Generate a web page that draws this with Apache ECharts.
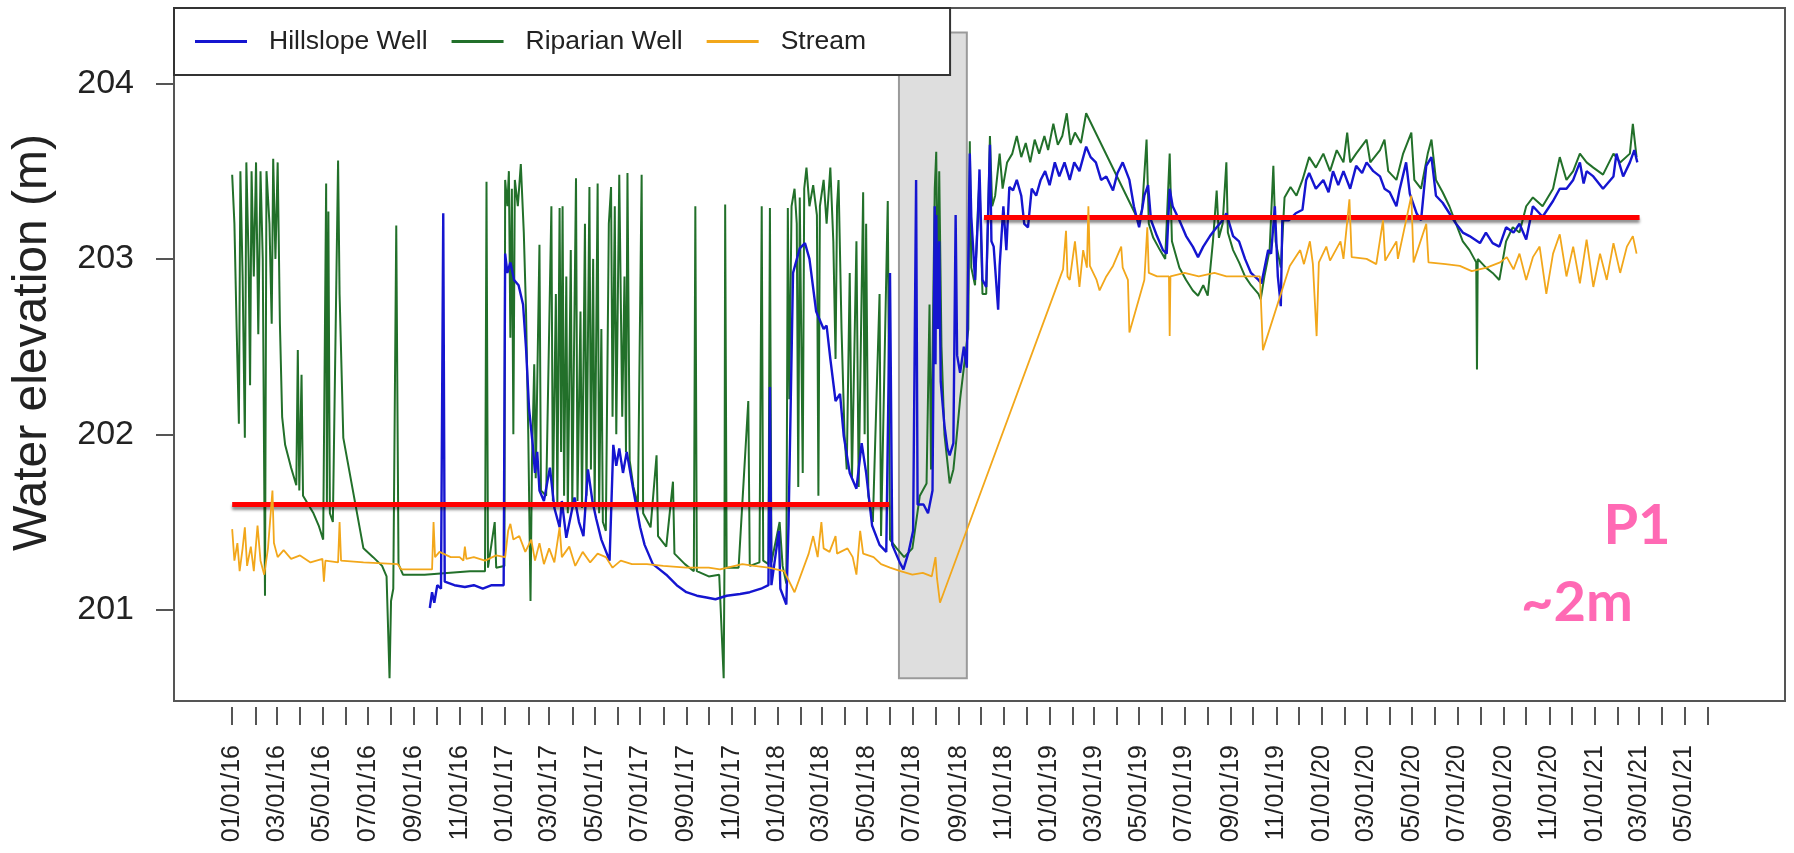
<!DOCTYPE html>
<html>
<head>
<meta charset="UTF-8">
<title>Water elevation P1</title>
<script src="https://cdn.jsdelivr.net/npm/echarts@6/dist/echarts.min.js"></script>
<style>
  html, body { margin: 0; padding: 0; background: #fff; }
  #main { width: 1794px; height: 853px; }
</style>
</head>
<body>
<div id="main"></div>
<script>
// series values, [date, water elevation m]
var hillslope = [
    ['2016-09-22',201.01],['2016-09-25',201.1],['2016-09-28',201.04],['2016-10-02',201.14],['2016-10-07',201.12],['2016-10-10',203.26],['2016-10-12',201.16],
    ['2016-10-25',201.14],['2016-11-08',201.13],['2016-11-20',201.14],['2016-12-02',201.12],['2016-12-14',201.14],['2016-12-30',201.14],
    ['2017-01-01',203.03],['2017-01-04',202.92],['2017-01-08',202.98],['2017-01-13',202.88],['2017-01-19',202.85],['2017-01-25',202.74],['2017-01-29',202.49],
    ['2017-02-02',202.15],['2017-02-07',201.94],['2017-02-10',201.78],['2017-02-13',201.9],['2017-02-16',201.68],['2017-02-22',201.62],['2017-03-02',201.81],
    ['2017-03-08',201.58],['2017-03-15',201.47],['2017-03-18',201.62],['2017-03-24',201.41],['2017-04-04',201.64],['2017-04-10',201.5],['2017-04-16',201.42],
    ['2017-04-22',201.8],['2017-04-28',201.62],['2017-05-03',201.52],['2017-05-10',201.4],['2017-05-21',201.28],['2017-05-26',201.94],['2017-05-30',201.82],
    ['2017-06-03',201.92],['2017-06-08',201.78],['2017-06-13',201.9],['2017-06-22',201.68],['2017-07-01',201.47],['2017-07-07',201.37],['2017-07-18',201.26],
    ['2017-07-27',201.23],['2017-08-05',201.2],['2017-08-19',201.14],['2017-09-01',201.1],['2017-09-15',201.08],['2017-09-28',201.07],['2017-10-10',201.06],
    ['2017-10-25',201.08],['2017-11-12',201.09],['2017-11-25',201.1],['2017-12-10',201.12],['2017-12-20',201.14],['2017-12-22',202.27],['2017-12-24',201.14],
    ['2018-01-03',201.45],['2018-01-05',201.12],['2018-01-13',201.03],['2018-01-16',201.49],['2018-01-22',202.92],['2018-01-31',203.06],['2018-02-07',203.09],
    ['2018-02-13',203.0],['2018-02-22',202.7],['2018-03-04',202.6],['2018-03-08',202.62],['2018-03-13',202.43],['2018-03-20',202.19],['2018-03-26',202.23],
    ['2018-03-31',201.99],['2018-04-08',201.78],['2018-04-17',201.69],['2018-04-24',201.95],['2018-04-30',201.78],['2018-05-08',201.48],['2018-05-18',201.37],
    ['2018-05-27',201.33],['2018-06-01',202.92],['2018-06-04',201.37],['2018-06-14',201.27],['2018-06-19',201.23],['2018-06-26',201.33],['2018-07-02',201.45],
    ['2018-07-06',203.45],['2018-07-08',201.6],['2018-07-16',201.6],['2018-07-22',201.55],['2018-07-28',201.68],['2018-07-31',203.3],['2018-08-01',202.4],
    ['2018-08-02',203.25],['2018-08-04',202.6],['2018-08-06',203.1],['2018-08-08',202.3],['2018-08-13',202.05],['2018-08-17',201.92],['2018-08-20',201.88],
    ['2018-08-25',201.95],['2018-08-28',203.25],['2018-08-30',202.45],['2018-09-03',202.35],['2018-09-08',202.5],['2018-09-12',202.38],['2018-09-16',203.6],
    ['2018-09-18',203.24],['2018-09-23',202.88],['2018-09-27',203.24],['2018-09-29',203.51],['2018-10-03',202.88],['2018-10-08',202.84],['2018-10-13',203.65],
    ['2018-10-15',203.1],['2018-10-18',203.07],['2018-10-24',202.71],['2018-10-26',202.96],['2018-10-31',203.3],['2018-11-04',203.05],['2018-11-08',203.41],
    ['2018-11-13',203.39],['2018-11-18',203.45],['2018-11-24',203.36],['2018-11-28',203.2],['2018-12-03',203.18],['2018-12-08',203.4],['2018-12-14',203.36],
    ['2018-12-20',203.45],['2018-12-26',203.5],['2019-01-01',203.42],['2019-01-08',203.55],['2019-01-14',203.47],['2019-01-21',203.55],['2019-01-28',203.45],
    ['2019-02-03',203.55],['2019-02-10',203.5],['2019-02-19',203.64],['2019-02-25',203.58],['2019-03-04',203.55],['2019-03-11',203.45],['2019-03-18',203.47],
    ['2019-03-27',203.39],['2019-04-02',203.49],['2019-04-09',203.55],['2019-04-18',203.45],['2019-04-24',203.3],['2019-05-01',203.18],['2019-05-08',203.36],
    ['2019-05-13',203.42],['2019-05-17',203.22],['2019-05-25',203.13],['2019-06-02',203.05],['2019-06-07',203.03],['2019-06-11',203.4],['2019-06-15',203.3],
    ['2019-06-24',203.22],['2019-07-03',203.13],['2019-07-12',203.07],['2019-07-19',203.01],['2019-07-26',203.07],['2019-08-04',203.13],['2019-08-13',203.18],
    ['2019-08-21',203.22],['2019-08-26',203.26],['2019-09-04',203.13],['2019-09-12',203.1],['2019-09-20',203.0],['2019-09-28',202.92],['2019-10-08',202.88],
    ['2019-10-12',202.86],['2019-10-21',203.05],['2019-10-25',203.03],['2019-10-30',203.3],['2019-11-03',202.9],['2019-11-07',202.73],['2019-11-09',203.22],
    ['2019-11-18',203.22],['2019-11-27',203.26],['2019-12-06',203.28],['2019-12-11',203.45],['2019-12-15',203.49],['2019-12-24',203.4],['2020-01-03',203.45],
    ['2020-01-10',203.38],['2020-01-16',203.5],['2020-01-23',203.42],['2020-01-30',203.5],['2020-02-08',203.4],['2020-02-16',203.53],['2020-02-24',203.49],
    ['2020-03-01',203.55],['2020-03-10',203.5],['2020-03-19',203.47],['2020-03-25',203.4],['2020-04-01',203.38],['2020-04-10',203.3],['2020-04-14',203.39],
    ['2020-04-23',203.55],['2020-04-28',203.37],['2020-05-07',203.26],['2020-05-13',203.22],['2020-05-20',203.53],['2020-05-27',203.58],['2020-06-02',203.36],
    ['2020-06-11',203.32],['2020-06-20',203.26],['2020-06-29',203.2],['2020-07-08',203.15],['2020-07-17',203.13],['2020-07-31',203.09],['2020-08-08',203.15],
    ['2020-08-17',203.09],['2020-08-26',203.07],['2020-09-04',203.18],['2020-09-14',203.15],['2020-09-22',203.2],['2020-10-01',203.11],['2020-10-10',203.3],
    ['2020-10-23',203.24],['2020-11-06',203.33],['2020-11-15',203.4],['2020-11-24',203.4],['2020-12-03',203.45],['2020-12-12',203.55],['2020-12-17',203.43],
    ['2020-12-21',203.5],['2020-12-30',203.47],['2021-01-12',203.4],['2021-01-26',203.47],['2021-01-30',203.6],['2021-02-08',203.47],['2021-02-17',203.55],
    ['2021-02-23',203.62],['2021-02-27',203.55]
];

var riparian = [
    ['2016-01-01',203.48],['2016-01-04',203.2],['2016-01-07',202.6],['2016-01-10',202.06],['2016-01-12',203.5],['2016-01-15',202.9],['2016-01-18',201.98],
    ['2016-01-20',203.55],['2016-01-23',203.0],['2016-01-25',202.28],['2016-01-27',203.5],['2016-01-30',202.9],['2016-02-02',203.55],['2016-02-05',202.57],
    ['2016-02-08',203.5],['2016-02-11',203.0],['2016-02-14',201.08],['2016-02-16',203.5],['2016-02-20',203.2],['2016-02-23',202.63],['2016-02-25',203.57],
    ['2016-02-28',203.0],['2016-03-02',203.55],['2016-03-05',202.63],['2016-03-08',202.1],['2016-03-12',201.94],['2016-03-20',201.81],['2016-03-27',201.71],
    ['2016-03-29',202.48],['2016-03-31',201.68],['2016-04-03',202.34],['2016-04-05',201.65],['2016-04-12',201.6],['2016-04-19',201.55],['2016-04-26',201.48],
    ['2016-05-02',201.4],['2016-05-06',203.43],['2016-05-07',201.6],['2016-05-09',203.27],['2016-05-11',201.55],['2016-05-15',201.5],['2016-05-22',203.56],
    ['2016-05-24',202.8],['2016-05-29',201.98],['2016-06-25',201.35],['2016-07-08',201.3],['2016-07-20',201.25],['2016-07-26',201.19],['2016-07-30',200.61],
    ['2016-08-01',201.05],['2016-08-04',201.12],['2016-08-08',203.19],['2016-08-11',201.26],['2016-08-17',201.2],['2016-09-15',201.2],['2016-10-15',201.21],
    ['2016-11-15',201.22],['2016-12-05',201.22],['2016-12-07',203.44],['2016-12-09',201.24],['2016-12-18',201.5],['2016-12-20',201.24],['2016-12-31',201.25],
    ['2017-01-01',203.45],['2017-01-04',203.3],['2017-01-06',203.5],['2017-01-08',202.55],['2017-01-10',203.4],['2017-01-12',202.0],['2017-01-14',203.45],
    ['2017-01-18',203.3],['2017-01-22',203.54],['2017-01-26',203.15],['2017-01-29',202.7],['2017-02-01',202.0],['2017-02-04',201.05],['2017-02-06',201.85],
    ['2017-02-09',202.4],['2017-02-11',201.75],['2017-02-16',203.08],['2017-02-18',201.68],['2017-02-25',201.65],['2017-03-04',203.3],['2017-03-06',201.62],
    ['2017-03-10',202.8],['2017-03-12',201.6],['2017-03-15',203.29],['2017-03-17',201.9],['2017-03-19',203.3],['2017-03-21',201.65],['2017-03-24',202.9],
    ['2017-03-26',201.55],['2017-03-30',203.05],['2017-04-01',201.6],['2017-04-06',203.46],['2017-04-08',201.62],['2017-04-12',202.7],['2017-04-14',201.58],
    ['2017-04-18',203.2],['2017-04-20',201.65],['2017-04-24',203.41],['2017-04-26',201.8],['2017-04-29',203.0],['2017-05-01',201.6],['2017-05-05',203.43],
    ['2017-05-07',201.55],['2017-05-10',202.6],['2017-05-12',201.5],['2017-05-16',201.45],['2017-05-20',203.2],['2017-05-23',203.41],['2017-05-25',202.1],
    ['2017-05-28',203.3],['2017-05-30',202.0],['2017-06-03',203.48],['2017-06-05',203.49],['2017-06-07',202.1],['2017-06-10',202.9],['2017-06-12',201.9],
    ['2017-06-14',203.49],['2017-06-17',201.85],['2017-06-22',201.7],['2017-06-28',201.6],['2017-07-03',203.48],['2017-07-05',201.55],['2017-07-15',201.47],
    ['2017-07-23',201.88],['2017-07-25',201.42],['2017-08-05',201.36],['2017-08-14',201.73],['2017-08-16',201.32],['2017-08-30',201.26],['2017-09-11',201.22],
    ['2017-09-13',203.3],['2017-09-15',201.22],['2017-10-01',201.19],['2017-10-15',201.2],['2017-10-21',200.61],['2017-10-22',201.22],['2017-10-23',203.31],
    ['2017-10-25',201.24],['2017-11-10',201.24],['2017-11-23',202.19],['2017-11-25',201.25],['2017-12-08',201.27],['2017-12-11',203.3],['2017-12-13',201.28],
    ['2017-12-20',201.26],['2017-12-22',203.29],['2017-12-24',201.27],['2018-01-04',201.5],['2018-01-08',201.25],['2018-01-13',201.15],['2018-01-15',203.29],
    ['2018-01-17',202.2],['2018-01-20',203.3],['2018-01-24',203.4],['2018-01-27',203.2],['2018-01-29',201.7],['2018-01-31',203.35],['2018-02-04',201.78],
    ['2018-02-06',203.4],['2018-02-09',203.52],['2018-02-13',203.3],['2018-02-18',203.42],['2018-02-23',203.25],['2018-02-25',201.65],['2018-02-27',203.3],
    ['2018-03-04',203.45],['2018-03-08',203.2],['2018-03-13',203.52],['2018-03-17',203.1],['2018-03-20',202.43],['2018-03-22',203.3],['2018-03-24',203.45],
    ['2018-03-28',202.6],['2018-04-01',202.0],['2018-04-04',201.8],['2018-04-08',202.92],['2018-04-11',201.75],['2018-04-17',203.1],['2018-04-20',201.7],
    ['2018-04-26',203.38],['2018-04-28',202.0],['2018-04-30',203.2],['2018-05-03',201.65],['2018-05-09',201.5],['2018-05-18',202.8],['2018-05-20',201.42],
    ['2018-05-29',203.33],['2018-06-01',201.4],['2018-06-10',201.35],['2018-06-20',201.3],['2018-07-01',201.35],['2018-07-06',201.5],['2018-07-11',201.65],
    ['2018-07-20',201.72],['2018-07-24',202.74],['2018-07-26',201.8],['2018-07-31',203.4],['2018-08-02',203.61],['2018-08-04',202.8],['2018-08-06',203.5],
    ['2018-08-09',202.5],['2018-08-13',202.0],['2018-08-20',201.72],['2018-08-25',201.8],['2018-08-29',201.97],['2018-09-03',202.2],['2018-09-10',202.45],
    ['2018-09-14',202.6],['2018-09-16',203.67],['2018-09-18',202.95],['2018-09-23',202.85],['2018-09-27',203.3],['2018-09-29',203.45],['2018-10-03',202.8],
    ['2018-10-08',202.8],['2018-10-13',203.7],['2018-10-16',203.3],['2018-10-20',203.36],['2018-10-26',203.6],['2018-10-30',203.4],['2018-11-05',203.55],
    ['2018-11-12',203.6],['2018-11-18',203.7],['2018-11-24',203.58],['2018-11-30',203.66],['2018-12-06',203.55],['2018-12-12',203.68],['2018-12-18',203.6],
    ['2018-12-25',203.7],['2018-12-30',203.62],['2019-01-06',203.77],['2019-01-12',203.65],['2019-01-18',203.7],['2019-01-24',203.83],['2019-01-29',203.65],
    ['2019-02-04',203.72],['2019-02-12',203.66],['2019-02-19',203.83],['2019-04-30',203.22],['2019-05-05',203.28],['2019-05-11',203.68],['2019-05-14',203.2],
    ['2019-05-20',203.12],['2019-05-29',203.05],['2019-06-05',203.0],['2019-06-11',203.6],['2019-06-14',203.1],['2019-06-24',202.95],['2019-07-03',202.88],
    ['2019-07-12',202.82],['2019-07-19',202.79],['2019-07-26',202.85],['2019-08-01',202.79],['2019-08-08',203.1],['2019-08-13',203.39],['2019-08-16',203.12],
    ['2019-08-21',203.2],['2019-08-26',203.55],['2019-08-28',203.15],['2019-09-04',203.05],['2019-09-12',202.98],['2019-09-20',202.9],['2019-09-28',202.85],
    ['2019-10-08',202.8],['2019-10-11',202.77],['2019-10-16',202.9],['2019-10-23',203.05],['2019-10-28',203.53],['2019-10-31',203.1],['2019-11-07',202.95],
    ['2019-11-12',203.35],['2019-11-20',203.41],['2019-11-28',203.36],['2019-12-06',203.45],['2019-12-15',203.58],['2019-12-24',203.52],['2020-01-03',203.6],
    ['2020-01-12',203.5],['2020-01-21',203.62],['2020-01-30',203.55],['2020-02-04',203.72],['2020-02-08',203.55],['2020-02-16',203.6],['2020-03-01',203.68],
    ['2020-03-06',203.55],['2020-03-19',203.62],['2020-03-25',203.68],['2020-03-30',203.5],['2020-04-10',203.45],['2020-04-19',203.6],['2020-04-30',203.72],
    ['2020-05-04',203.45],['2020-05-13',203.4],['2020-05-22',203.6],['2020-05-27',203.68],['2020-06-02',203.45],['2020-06-11',203.38],['2020-06-20',203.3],
    ['2020-06-29',203.2],['2020-07-08',203.1],['2020-07-17',203.05],['2020-07-26',202.98],['2020-07-27',202.37],['2020-07-28',203.0],['2020-08-08',202.95],
    ['2020-08-17',202.92],['2020-08-26',202.88],['2020-09-04',203.1],['2020-09-13',203.18],['2020-09-22',203.15],['2020-10-01',203.3],['2020-10-10',203.35],
    ['2020-10-23',203.3],['2020-11-06',203.4],['2020-11-15',203.58],['2020-11-24',203.45],['2020-12-03',203.5],['2020-12-12',203.6],['2020-12-21',203.55],
    ['2020-12-30',203.52],['2021-01-12',203.48],['2021-01-26',203.6],['2021-02-04',203.55],['2021-02-17',203.6],['2021-02-21',203.77],['2021-02-26',203.58]
];

var stream = [
    ['2016-01-01',201.46],['2016-01-04',201.28],['2016-01-08',201.38],['2016-01-11',201.22],['2016-01-15',201.35],['2016-01-18',201.47],['2016-01-21',201.25],
    ['2016-01-26',201.36],['2016-01-30',201.22],['2016-02-04',201.48],['2016-02-08',201.28],['2016-02-13',201.2],['2016-02-18',201.35],['2016-02-24',201.68],
    ['2016-02-26',201.38],['2016-03-02',201.3],['2016-03-10',201.34],['2016-03-20',201.29],['2016-04-01',201.31],['2016-04-15',201.27],['2016-05-01',201.29],
    ['2016-05-03',201.16],['2016-05-05',201.28],['2016-05-22',201.27],['2016-05-24',201.5],['2016-05-26',201.28],['2016-06-25',201.27],['2016-08-10',201.26],
    ['2016-08-15',201.23],['2016-09-25',201.23],['2016-09-27',201.5],['2016-09-29',201.3],['2016-10-05',201.33],['2016-10-20',201.3],['2016-11-01',201.3],
    ['2016-11-06',201.28],['2016-11-08',201.36],['2016-11-10',201.29],['2016-11-20',201.3],['2016-12-05',201.28],['2016-12-20',201.31],['2017-01-01',201.3],
    ['2017-01-05',201.45],['2017-01-08',201.49],['2017-01-12',201.4],['2017-01-20',201.42],['2017-01-28',201.33],['2017-02-05',201.4],['2017-02-10',201.28],
    ['2017-02-16',201.38],['2017-02-22',201.26],['2017-03-01',201.35],['2017-03-08',201.27],['2017-03-15',201.47],['2017-03-18',201.3],['2017-03-28',201.36],
    ['2017-04-05',201.25],['2017-04-15',201.33],['2017-04-25',201.27],['2017-05-05',201.32],['2017-05-16',201.3],['2017-05-25',201.24],['2017-06-05',201.28],
    ['2017-06-20',201.26],['2017-07-10',201.26],['2017-08-01',201.25],['2017-09-01',201.24],['2017-10-01',201.24],['2017-10-16',201.23],['2017-11-15',201.26],
    ['2017-12-01',201.25],['2017-12-20',201.24],['2018-01-10',201.22],['2018-01-24',201.1],['2018-02-12',201.32],['2018-02-18',201.42],['2018-02-24',201.3],
    ['2018-03-01',201.5],['2018-03-04',201.35],['2018-03-12',201.33],['2018-03-20',201.42],['2018-03-22',201.32],['2018-04-05',201.35],['2018-04-12',201.3],
    ['2018-04-17',201.2],['2018-04-22',201.45],['2018-04-26',201.32],['2018-05-10',201.3],['2018-05-20',201.26],['2018-06-01',201.24],['2018-06-15',201.22],
    ['2018-07-01',201.2],['2018-07-15',201.21],['2018-07-27',201.19],['2018-08-01',201.3],['2018-08-03',201.18],['2018-08-07',201.04],['2019-01-19',202.94],
    ['2019-01-23',203.16],['2019-01-25',202.9],['2019-01-28',202.88],['2019-02-04',203.1],['2019-02-10',202.84],['2019-02-15',203.05],['2019-02-20',202.95],
    ['2019-02-22',203.3],['2019-02-24',202.96],['2019-03-05',202.88],['2019-03-09',202.82],['2019-03-18',202.9],['2019-03-27',202.96],['2019-04-07',203.07],
    ['2019-04-09',202.95],['2019-04-14',202.9],['2019-04-16',202.88],['2019-04-18',202.58],['2019-05-08',202.88],['2019-05-12',203.18],['2019-05-14',202.92],
    ['2019-05-25',202.9],['2019-06-10',202.9],['2019-06-11',202.56],['2019-06-12',202.9],['2019-07-01',202.92],['2019-07-20',202.9],['2019-08-10',202.92],
    ['2019-08-26',202.9],['2019-09-12',202.9],['2019-10-10',202.9],['2019-10-14',202.48],['2019-11-19',202.96],['2019-12-03',203.05],['2019-12-08',202.97],
    ['2019-12-16',203.1],['2019-12-20',202.97],['2019-12-25',202.56],['2019-12-28',202.98],['2020-01-07',203.07],['2020-01-12',202.99],['2020-01-26',203.1],
    ['2020-01-30',203.0],['2020-02-07',203.34],['2020-02-10',203.01],['2020-03-01',203.0],['2020-03-14',202.97],['2020-03-23',203.22],['2020-03-26',202.99],
    ['2020-04-10',203.1],['2020-04-12',203.0],['2020-04-30',203.36],['2020-05-03',202.98],['2020-05-20',203.2],['2020-05-23',202.98],['2020-06-15',202.97],
    ['2020-07-04',202.96],['2020-07-20',202.93],['2020-08-09',202.95],['2020-08-27',202.98],['2020-09-05',203.01],['2020-09-14',202.94],['2020-09-22',203.03],
    ['2020-10-01',202.88],['2020-10-10',203.01],['2020-10-19',203.07],['2020-10-28',202.8],['2020-11-06',203.03],['2020-11-15',203.14],['2020-11-24',202.9],
    ['2020-12-03',203.07],['2020-12-12',202.86],['2020-12-21',203.11],['2020-12-30',202.84],['2021-01-08',203.03],['2021-01-17',202.88],['2021-01-26',203.09],
    ['2021-02-04',202.92],['2021-02-13',203.07],['2021-02-21',203.13],['2021-02-26',203.03]
];

// red reference levels [from, to, level] and the shaded period [from, to, low, high]
var meanLevels = [['2016-01-01', '2018-05-31', 201.6], ['2018-10-05', '2021-03-02', 203.24]];
var shadedPeriod = ['2018-06-13', '2018-09-12', 200.61, 204.29];

var tickLabels = ['01/01/16','03/01/16','05/01/16','07/01/16','09/01/16','11/01/16',
    '01/01/17','03/01/17','05/01/17','07/01/17','09/01/17','11/01/17',
    '01/01/18','03/01/18','05/01/18','07/01/18','09/01/18','11/01/18',
    '01/01/19','03/01/19','05/01/19','07/01/19','09/01/19','11/01/19',
    '01/01/20','03/01/20','05/01/20','07/01/20','09/01/20','11/01/20',
    '01/01/21','03/01/21','05/01/21'];
var yTicks = [201, 202, 203, 204];

function toTime(s) {
    var p = s.split('-');
    return new Date(+p[0], +p[1] - 1, +p[2]).getTime();
}
function labelTime(s) {
    var p = s.split('/');
    return new Date(2000 + +p[2], +p[0] - 1, +p[1]).getTime();
}
function pad(n) { return n < 10 ? '0' + n : '' + n; }
function toPoints(arr) {
    return arr.map(function (d) { return [toTime(d[0]), d[1]]; });
}

var labelValues = tickLabels.map(labelTime);
var monthTicks = [];
for (var m = 0; m <= 65; m++) {
    monthTicks.push(new Date(2016, m, 1).getTime());
}

var myChart = echarts.init(document.getElementById('main'));
var option = {
    animation: false,
    textStyle: { fontFamily: 'Liberation Sans, Arial, sans-serif' },
    grid: {
        left: 174, right: 9, top: 8, bottom: 152,
        show: true, borderColor: '#555', borderWidth: 2, backgroundColor: 'transparent'
    },
    legend: {
        data: ['Hillslope Well', 'Riparian Well', 'Stream'],
        left: 174, top: 8,
        icon: 'rect', itemWidth: 52, itemHeight: 3, itemGap: 24,
        padding: [19, 84, 19, 21],
        backgroundColor: '#fff', borderColor: '#333', borderWidth: 2, borderRadius: 0,
        textStyle: { fontSize: 26.5, color: '#222', lineHeight: 29, padding: [0, 0, 0, 17] }
    },
    xAxis: {
        type: 'value',
        min: new Date(2015, 9, 15).getTime(),
        max: new Date(2021, 8, 13).getTime(),
        offset: 6,
        axisLine: { show: false },
        axisTick: { show: true, length: 18, customValues: monthTicks, lineStyle: { color: '#555', width: 2 } },
        axisLabel: {
            customValues: labelValues, rotate: 90, margin: 38, fontSize: 25, color: '#222',
            formatter: function (v) {
                var d = new Date(v);
                return pad(d.getMonth() + 1) + '/' + pad(d.getDate()) + '/' + String(d.getFullYear()).slice(2);
            }
        },
        splitLine: { show: false }
    },
    yAxis: {
        type: 'value', min: 200.48, max: 204.43,
        name: 'Water elevation (m)', nameLocation: 'middle', nameGap: 117,
        nameTextStyle: { fontSize: 48, color: '#222', padding: [0, 0, 0, 24] },
        axisLine: { show: false },
        axisTick: { show: true, length: 18, customValues: yTicks, lineStyle: { color: '#555', width: 2 } },
        axisLabel: { customValues: yTicks, margin: 40, fontSize: 34, color: '#222' },
        splitLine: { show: false }
    },
    series: [{
        name: 'Riparian Well', type: 'line', data: toPoints(riparian), z: 3,
        showSymbol: false, color: '#22702a', lineStyle: { width: 2 },
        markArea: {
            silent: true,
            itemStyle: { color: '#dedede', borderColor: '#9a9a9a', borderWidth: 2 },
            data: [[{ xAxis: toTime(shadedPeriod[0]), yAxis: shadedPeriod[2] }, { xAxis: toTime(shadedPeriod[1]), yAxis: shadedPeriod[3] }]]
        }
    }, {
        name: 'Hillslope Well', type: 'line', data: toPoints(hillslope), z: 4,
        showSymbol: false, color: '#1515d0', lineStyle: { width: 2.4 }
    }, {
        name: 'Stream', type: 'line', data: toPoints(stream), z: 5,
        showSymbol: false, color: '#f2a71b', lineStyle: { width: 1.8 },
        markLine: {
            silent: true, symbol: 'none', label: { show: false },
            lineStyle: { color: '#ff0000', width: 5, type: 'solid', shadowColor: 'rgba(0,0,0,0.45)', shadowBlur: 3, shadowOffsetY: 3 },
            data: meanLevels.map(function (l) {
                return [{ coord: [toTime(l[0]), l[2]] }, { coord: [toTime(l[1]), l[2]] }];
            })
        }
    }],
    graphic: [{
        type: 'text', x: 1637, y: 526,
        style: { text: 'P1', fill: '#ff69b4', fontSize: 56, fontWeight: 'bold', fontFamily: 'Lato', align: 'center', verticalAlign: 'middle' }
    }, {
        type: 'text', x: 1577, y: 603,
        style: { text: '~2m', fill: '#ff69b4', fontSize: 56, fontWeight: 'bold', fontFamily: 'Lato', align: 'center', verticalAlign: 'middle' }
    }]
};
myChart.setOption(option);
</script>
</body>
</html>
